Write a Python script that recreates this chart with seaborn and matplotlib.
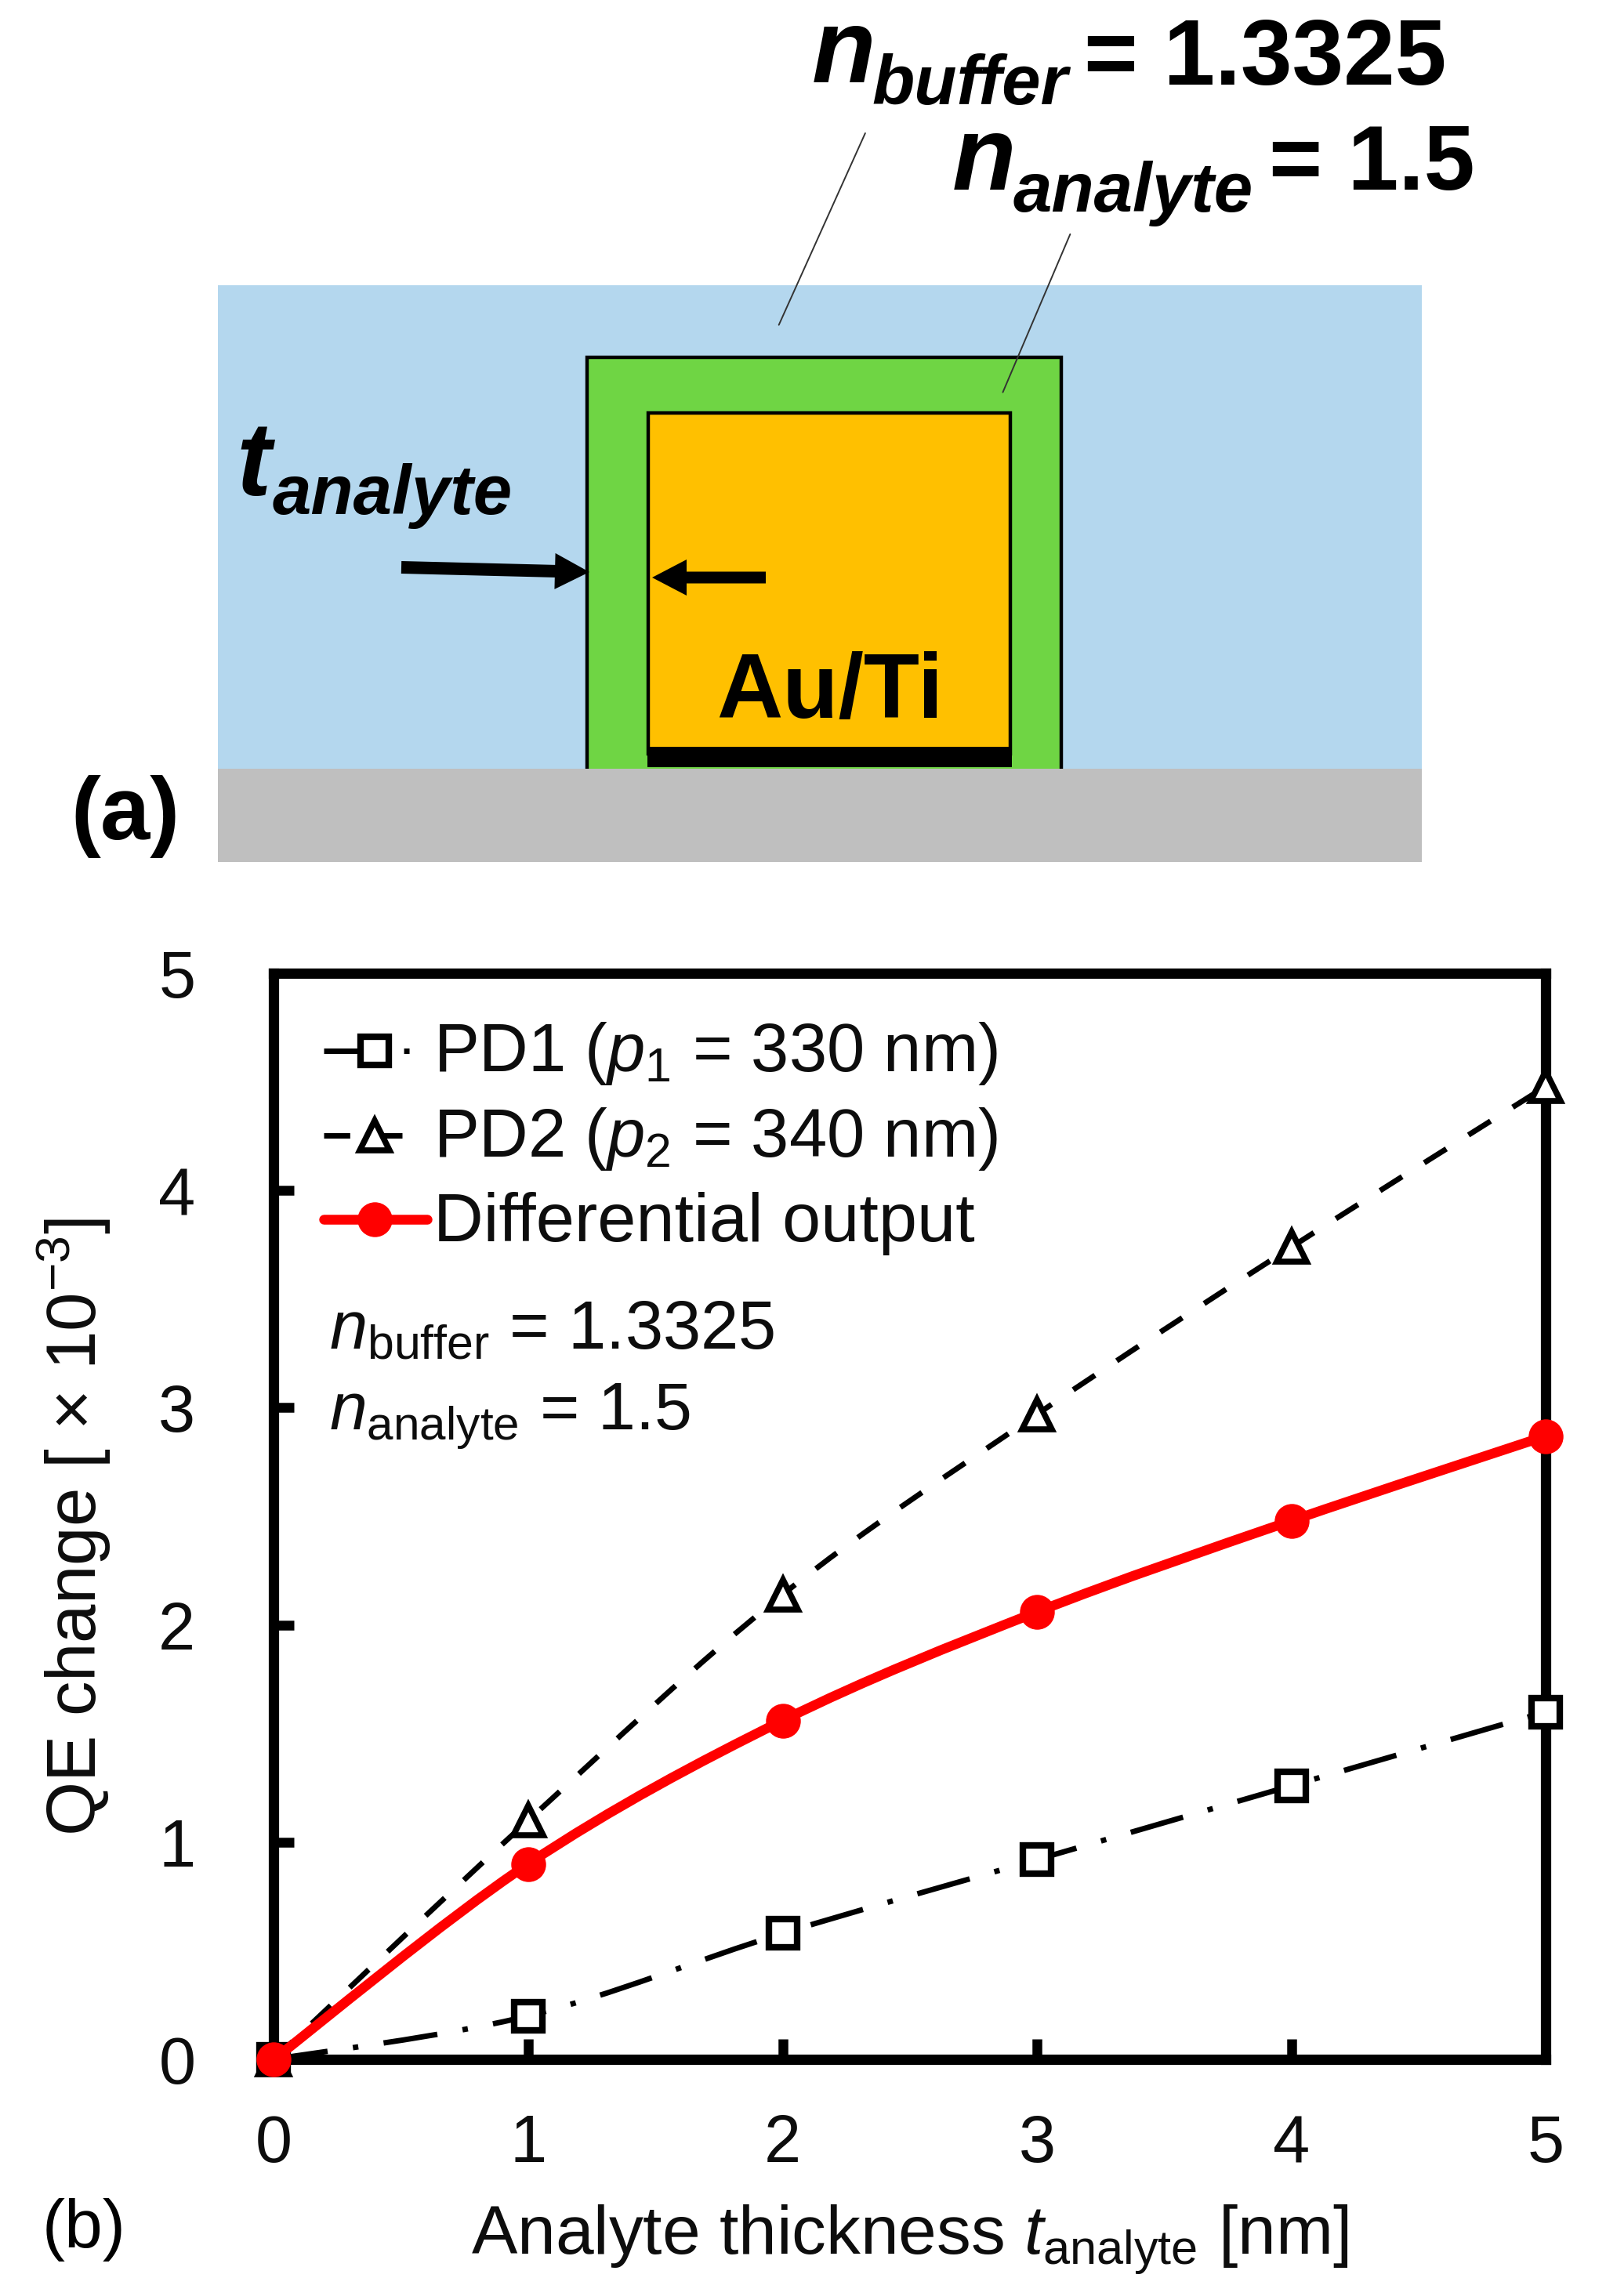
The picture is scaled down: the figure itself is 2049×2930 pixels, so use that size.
import matplotlib
matplotlib.use("Agg")
import matplotlib.pyplot as plt
from matplotlib.patches import Rectangle, FancyArrow, PathPatch
from matplotlib.path import Path
import numpy as np
import pandas as pd
import seaborn as sns

thickness = [0, 1, 2, 3, 4, 5]
pd1 = [0, 0.2, 0.58, 0.92, 1.26, 1.6]
pd2 = [0, 1.1, 2.14, 2.97, 3.74, 4.48]
diff = [0, 0.9, 1.56, 2.06, 2.48, 2.87]
ticks_x = [0, 1, 2, 3, 4, 5]
ticks_y = [0, 1, 2, 3, 4, 5]

sns.set_theme(style="white")
plt.rcParams['font.family'] = ['Liberation Sans', 'DejaVu Sans']
plt.rcParams['mathtext.fontset'] = 'custom'
plt.rcParams['mathtext.rm'] = 'Liberation Sans'
plt.rcParams['mathtext.it'] = 'Liberation Sans:italic'
plt.rcParams['mathtext.bf'] = 'Liberation Sans:bold'

W, H = 2049, 2930
dpi = 100
fig = plt.figure(figsize=(W/dpi, H/dpi), dpi=dpi, facecolor='white')
S = 2049/1097
INK = '#0d0d0d'

# overlay in full-size pixel coordinates
ov = fig.add_axes([0, 0, 1, 1], zorder=5)
ov.set_xlim(0, W); ov.set_ylim(H, 0); ov.axis('off')
ov.patch.set_alpha(0)

def R(x0, y0, x1, y1, fc, ec='none', lw=0, z=1):
    ov.add_patch(Rectangle((x0*S, y0*S), (x1-x0)*S, (y1-y0)*S, fc=fc, ec=ec, lw=lw, zorder=z))

R(149, 195, 971, 525, '#B4D7EE', z=1)
R(401, 244, 725, 530, '#6FD544', 'black', 3.2, z=2)
R(149, 525, 971, 589, '#BFBFBF', z=3)
R(443, 282, 690, 515, '#FFC000', 'black', 3.2, z=4)
R(442, 510, 691, 524, 'black', z=5)

def arrow(x0, y0, x1, y1, w):
    ov.add_patch(FancyArrow(x0, y0, x1-x0, y1-y0, width=w, head_width=46, head_length=44,
                            length_includes_head=True, fc='black', ec='none', zorder=6))
arrow(512, 724, 752, 730, 16)
arrow(977, 737, 832, 737, 15)
ov.plot([591*S, 532*S], [91*S, 222*S], color='#333333', lw=1.4, zorder=6)
ov.plot([731*S, 685*S], [160*S, 268*S], color='#333333', lw=1.4, zorder=6)

def T(x, y, s, size, weight='bold', style='normal', **kw):
    ov.text(x, y, s, fontsize=size, fontweight=weight, fontstyle=style, va='baseline', ha='left',
            color='black', zorder=7, **kw)
T(1036, 105, 'n', 96, style='italic')
T(1112, 133, 'buffer', 64, style='italic')
T(1383, 108, '= 1.3325', 85)
T(1215, 242, 'n', 96, style='italic')
T(1293, 270, 'analyte', 64, style='italic')
T(1619, 242, '= 1.5', 84)
T(301, 632, 't', 96, style='italic')
T(348, 656, 'analyte', 64, style='italic')
T(914, 916, 'Au/Ti', 84)
T(90, 1071, '(a)', 82)
T(54, 2868, '(b)', 63, weight='normal')

# chart (b)
ax = fig.add_axes([187*S/W, 1-1407*S/H, 869*S/W, 742*S/H])
df = pd.DataFrame({'t': thickness, 'PD1': pd1, 'PD2': pd2, 'Diff': diff})

def smooth(xs, ys):
    # Excel-style smoothed segments through the data points
    p = np.column_stack([xs, ys]).astype(float)
    verts = [p[0]]; codes = [Path.MOVETO]
    for i in range(len(p)-1):
        a = p[max(i-1, 0)]; b = p[i]; c = p[i+1]; d = p[min(i+2, len(p)-1)]
        verts += [b + (c-a)/6, c - (d-b)/6, c]
        codes += [Path.CURVE4]*3
    return Path(verts, codes)

DASH1 = (0, (10, 4.7, 1, 4.7))
DASH2 = (0, (4.8, 4.8))
LW = 5.0
ax.add_patch(PathPatch(smooth(thickness, pd1), fc='none', ec='black', lw=LW, ls=DASH1, clip_on=False, zorder=3))
ax.add_patch(PathPatch(smooth(thickness, pd2), fc='none', ec='black', lw=LW, ls=DASH2, clip_on=False, zorder=3))
ax.add_patch(PathPatch(smooth(thickness, diff), fc='none', ec='#FF0000', lw=9, clip_on=False, zorder=4))

sq = dict(marker='s', ms=26, mfc='white', mec='black', mew=6)
tr = dict(marker='^', ms=27, mfc='white', mec='black', mew=5.5)
rd = dict(marker='o', ms=32, mfc='#FF0000', mec='#FF0000', mew=0)
sns.lineplot(data=df, x='t', y='PD1', ax=ax, linestyle='none', errorbar=None, clip_on=False, zorder=3.5, **sq)
sns.lineplot(data=df, x='t', y='PD2', ax=ax, linestyle='none', errorbar=None, clip_on=False, zorder=3.5, **tr)
sns.lineplot(data=df, x='t', y='Diff', ax=ax, linestyle='none', errorbar=None, clip_on=False, zorder=4.5, **rd)

ax.set_xlim(0, 5); ax.set_ylim(0, 5)
ax.set_xticks(ticks_x); ax.set_yticks(ticks_y)
ax.tick_params(axis='both', direction='in', length=19, width=9, color='black', labelsize=61,
               labelcolor=INK, bottom=True, left=True)
ax.tick_params(axis='x', pad=50)
ax.tick_params(axis='y', pad=72)
for s in ax.spines.values():
    s.set_linewidth(9.5); s.set_color('black')
ax.set_xlabel(r'Analyte thickness $\mathit{t}_{\mathrm{analyte}}$ [nm]', fontsize=63, color=INK, va='baseline')
ax.xaxis.set_label_coords(0.5, -0.18)
ax.set_ylabel(r'QE change [ $\times$ 10$^{-3}$]', fontsize=64, color=INK, va='center')
ax.yaxis.set_label_coords(-0.157, 0.49)

# hand legend on the overlay
x0, x1, xm = 221*S, 292*S, 256*S
ov.plot([x0, x1], [718*S, 718*S], color='black', lw=LW, ls=DASH1, zorder=6)
ov.plot([xm], [718*S], ls='none', zorder=6.5, **sq)
ov.plot([x0, x1], [776*S, 776*S], color='black', lw=LW, ls=DASH2, zorder=6)
ov.plot([xm], [776*S], ls='none', zorder=6.5, **tr)
ov.plot([x0, x1], [833*S, 833*S], color='#FF0000', lw=9, solid_capstyle='round', zorder=6)
ov.plot([xm], [833*S], ls='none', zorder=6.5, **rd)

def L(y, s, size=62):
    ov.text(296*S, y*S, s, fontsize=size, va='baseline', ha='left', color=INK, zorder=7)
L(732, r'PD1 ($\mathit{p}_{1}$ = 330 nm)', 62.5)
L(790, r'PD2 ($\mathit{p}_{2}$ = 340 nm)', 62.5)
L(848, 'Differential output', 63.5)
ov.text(225*S, 922*S, r'$\mathit{n}_{\mathrm{buffer}}$ = 1.3325', fontsize=62.5, color=INK, zorder=7)
ov.text(225*S, 976.5*S, r'$\mathit{n}_{\mathrm{analyte}}$ = 1.5', fontsize=62, color=INK, zorder=7)

fig.savefig('out.png', dpi=dpi)
